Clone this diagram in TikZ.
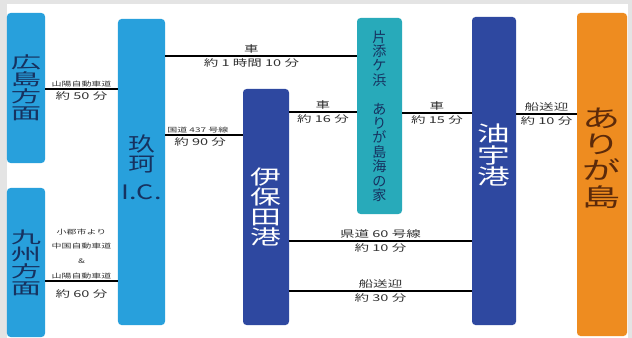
\documentclass[tikz,border=0pt]{standalone}
\usepackage{fontspec}
\usepackage{xcolor}
\usepackage{tikz}
\usetikzlibrary{positioning}
\newfontfamily\jpwider[FakeStretch=1.85]{Noto Sans CJK JP}
\newfontfamily\jpwide[FakeStretch=1.55]{Noto Sans CJK JP}
\newfontfamily\jpmid[FakeStretch=1.35]{Noto Sans CJK JP}
\newfontfamily\jpnarrow{Noto Sans CJK JP}
\definecolor{bggray}{RGB}{228,228,228}
\definecolor{skyblue}{RGB}{40,160,220}
\definecolor{portblue}{RGB}{46,72,160}
\definecolor{seateal}{RGB}{40,170,186}
\definecolor{islandorange}{RGB}{238,140,32}
\definecolor{navytext}{RGB}{22,50,96}
\definecolor{browntext}{RGB}{92,42,10}
\definecolor{labelgray}{RGB}{50,50,50}
\tikzset{
    areabox/.style = {rectangle, rounded corners=3pt, fill=skyblue, text=navytext, align=center, inner sep=0pt, minimum width=1.14cm},
    portbox/.style = {rectangle, rounded corners=3pt, fill=portblue, text=white, align=center, inner sep=0pt},
    road/.style = {-, line width=1pt, black},
    lbl/.style = {text=labelgray, font=\jpwide\fontsize{8}{9}\selectfont, inner sep=1.5pt},
    tinylbl/.style = {text=labelgray, font=\jpwide\fontsize{5.5}{12.5}\selectfont, inner sep=1.5pt, align=center},
}
\begin{document}
\begin{tikzpicture}[x=0.03cm, y=-0.03cm]
\useasboundingbox (0,0) rectangle (632,338);
\fill[bggray] (0,0) rectangle (632,338);
\fill[white] (7,4) rectangle (628,338);
%
\node[areabox, minimum height=4.5cm, font=\jpwider\fontsize{14}{14.5}\selectfont] at (26,88) (hiro) {広\\島\\方\\面};
\node[areabox, minimum height=4.47cm, font=\jpwider\fontsize{14}{14.5}\selectfont] at (26,262.5) (kyushu) {九\\州\\方\\面};
\node[areabox, minimum width=1.41cm, minimum height=9.18cm] at (141.5,172) (kuga) {};
\node[text=navytext, align=center, font=\jpmid\fontsize{17}{17}\selectfont] at (141.5,167) (kugatext) {玖\\珂\\[7pt]I.C.};
\node[portbox, minimum width=1.38cm, minimum height=7.08cm, font=\jpwide\fontsize{17}{17}\selectfont] at (266,207) (ihota) {伊\\保\\田\\港};
\node[rectangle, rounded corners=3pt, fill=seateal, text=navytext, align=center, inner sep=0pt, minimum width=1.35cm, minimum height=5.88cm, font=\jpnarrow\fontsize{12}{12.3}\selectfont] at (379.5,116) (katazoe) {片\\添\\ケ\\浜\\[12.3pt]あ\\り\\が\\島\\海\\の\\家};
\node[portbox, minimum width=1.32cm, minimum height=9.24cm] at (494,171) (yuu) {};
\node[text=white, align=center, font=\jpwide\fontsize{18}{18}\selectfont] at (494,155) (yuutext) {油\\宇\\港};
\node[rectangle, rounded corners=3pt, fill=islandorange, minimum width=1.5cm, minimum height=9.69cm] at (602,174.5) (arigashima) {};
\node[text=browntext, align=center, font=\jpwide\fontsize{21}{22.5}\selectfont] at (602,158) (arigashimatext) {あ\\り\\が\\島};
%
\draw[road] (hiro.east |- 0,89) -- node[tinylbl, above] {山陽自動車道} node[lbl, below] {約 50 分} (kuga.west |- 0,89);
\draw[road] (kyushu.east |- 0,281) -- node[tinylbl, above] {小郡市より\\中国自動車道\\\&\\山陽自動車道} node[lbl, below=5pt] {約 60 分} (kuga.west |- 0,281);
%
\draw[road] (kuga.east |- 0,56) -- node[lbl, above, pos=0.45] {車} node[lbl, below, pos=0.45] {約 1 時間 10 分} (katazoe.west |- 0,56);
\draw[road] (kuga.east |- 0,135) -- node[tinylbl, above, pos=0.42] {国道 437 号線} node[lbl, below, pos=0.45] {約 90 分} (ihota.west |- 0,135);
%
\draw[road] (ihota.east |- 0,112) -- node[lbl, above] {車} node[lbl, below] {約 16 分} (katazoe.west |- 0,112);
\draw[road] (katazoe.east |- 0,113) -- node[lbl, above] {車} node[lbl, below] {約 15 分} (yuu.west |- 0,113);
%
\draw[road] (ihota.east |- 0,241) -- node[lbl, above] {県道 60 号線} node[lbl, below] {約 10 分} (yuu.west |- 0,241);
\draw[road] (ihota.east |- 0,291) -- node[lbl, above] {船送迎} node[lbl, below] {約 30 分} (yuu.west |- 0,291);
%
\draw[road] (yuu.east |- 0,114) -- node[lbl, above] {船送迎} node[lbl, below] {約 10 分} (arigashima.west |- 0,114);
\end{tikzpicture}
\end{document}
